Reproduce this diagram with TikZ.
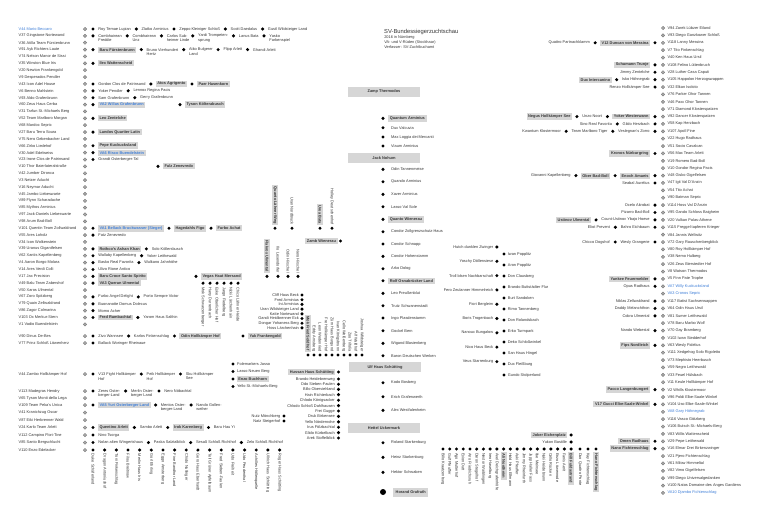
\documentclass[tikz,border=0pt]{standalone}
\usepackage{fontspec}
\setmainfont{Liberation Sans}
\usetikzlibrary{positioning}
\pgfdeclarelayer{bg}
\pgfsetlayers{bg,main}
\definecolor{txt}{HTML}{363636}
\definecolor{linec}{HTML}{9C9C9C}
\definecolor{boxc}{HTML}{D6D6D6}
\definecolor{blu}{HTML}{3F7FD8}
\newcommand\ftx{\fontsize{3.9}{4.5}\selectfont}
\newcommand\fbx{\fontsize{3.9}{4.5}\selectfont\bfseries}
\tikzset{
  tx/.style={font=\ftx, text=txt, inner sep=0.5pt, anchor=west},
  txe/.style={tx, anchor=east},
  bxn/.style={font=\fbx, text=txt, fill=boxc, inner xsep=1.6pt, inner ysep=1.5pt, anchor=west},
  bxnb/.style={bxn, text=blu},
  bxne/.style={bxn, anchor=east},
  bdot/.style={circle, fill=black, inner sep=0pt, minimum size=3.4pt},
  gdot/.style={circle, fill=gray!65, draw=gray, line width=0.5pt, inner sep=0pt, minimum size=3.3pt},
  lnk/.style={draw=linec, line width=0.7pt},
  vdn/.style={tx, rotate=-90, anchor=west},
  vup/.style={tx, rotate=-90, anchor=east},
  vbdn/.style={bxn, rotate=-90, anchor=west},
  vbup/.style={bxn, rotate=-90, anchor=east},
  nx/.style={right=2.8pt of #1},
  px/.style={left=2.8pt of #1},
  mbx/.style={font=\fbx, fill=boxc, text=txt, minimum width=72pt, minimum height=10pt, inner sep=0pt},
}
\begin{document}
\begin{tikzpicture}[x=1pt,y=-1pt]
\path[use as bounding box, fill=white] (0,0) rectangle (768,515);

% ---------------- title
\node[font=\fontsize{5.8}{6.5}\selectfont, text=txt, anchor=west, inner sep=0pt] (title) at (384,31.5) {SV-Bundessiegerzuchtschau};
\node[tx] (sub1) at (383.6,37.3) {2016 in Nürnberg};
\node[tx] (sub2) at (383.6,42) {VA- und V-Rüden (Stockhaar)};
\node[tx] (sub3) at (383.6,46.7) {Verfasser: SV-Zuchtbuchamt};

% ---------------- left list
\foreach \i/\cc/\nm in {0/blu/V44 Mario Beccaro,1/txt/V37 Gingstone Nortewand,2/txt/V36 Atilla Team Fürstenbrunn,3/txt/V91 Ayk Richters Laute,4/txt/V74 Nelson Manor de Sissi,5/txt/V35 Winston Blue Iris,6/txt/V20 Newton Frankengold,7/txt/V9 Desperados Pendler,8/txt/V43 Icon Adel House,9/txt/V6 Benno Mahlstein,10/txt/V93 Aldo Grafenbrunn,11/txt/V60 Zeus Haus Cerba,12/txt/V31 Tarfun St.-Michaels Berg,13/txt/V52 Team Marlboro Morgan,14/txt/V68 Mardoc Sepric,15/txt/V27 Baru Terra Soura,16/txt/V75 Nero Gebenbacher Land,17/txt/V66 Zirko Liedehof,18/txt/V30 Adel Edelweiss,19/txt/V23 Irone Clos de Patrinsand,20/txt/V10 Thor Baierlateralstraße,21/txt/V42 Jumber Dironca,22/txt/V3 Netzer Aducht,23/txt/V16 Neymar Aducht,24/txt/V45 Jambo Liebeswarte,25/txt/V89 Flynn Scharadache,26/txt/V85 Mythos Arminius,27/txt/V97 Jack-Daniels Liebeswarte,28/txt/V98 Arum Bad-Boll,29/txt/V101 Quentin Team Zollwaldrand,30/txt/V55 Ares Loholz,31/txt/V34 Icon Wolkenstein,32/txt/V39 Uranus Gigantfelsen,33/txt/V62 Xantis Kapellenberg,34/txt/V4 Aaron Borgo Molara,35/txt/V14 Ares Verdi Colli,36/txt/V17 Jax Precision,37/txt/V49 Balu Team Zabershof,38/txt/V50 Xaros Ulmental,39/txt/V67 Zoro Spitzberg,40/txt/V79 Quain Zellwaldrand,41/txt/V86 Zagor Colmarina,42/txt/V103 Ox Merkur-Stern,43/txt/V1 Vadio Buendelstein}{
  \node[tx, text=\cc] (L\i) at (18,{29+6.87*\i}) {\nm};
  \node[gdot] (G\i) at (85,{29+6.87*\i}) {};
}
\foreach \i/\yy/\nm in {44/336/V90 Dinus De-Bes,45/343/V77 Prinz Schloß Löwenherz,46/374/V44 Zambo Hollkämper Hof,47/391/V113 Madegras Hendry,48/398/V65 Tyson Monti della Lega,49/405/V109 Team Peka's Unica,50/412.5/V41 Kranichzug Oscar,51/420/V87 Eiki Herbrenner Wald,52/427.5/V24 Karlo Team Arlett,53/435/V112 Campino Flori-Tine,54/442.5/V85 Santo Bergschlucht,55/450/V110 Enzo Edelacker}{
  \node[tx] (L\i) at (18,\yy) {\nm};
  \node[gdot] (G\i) at (85,\yy) {};
}
\foreach \i in {0,1,3,5,8,9,10,11,13,15,17,18,19,29,30,32,33,34,35,36,37,39,40,41,42,44,45,46,47,49,52,53,54,55}{
  \node[bdot] (B\i) at (93,0 |- G\i) {};
}

% row 0
\node[tx, nx=B0] (r0a) {Roy Temae Lupian};
\node[bdot, nx=r0a] (r0ad) {};
\node[tx, nx=r0ad] (r0b) {Zlatko Arminius};
\node[bdot, nx=r0b] (r0bd) {};
\node[tx, nx=r0bd] (r0c) {Zeppo Kleiniger Schloß};
\node[bdot, nx=r0c] (r0cd) {};
\node[tx, nx=r0cd] (r0d) {Scott Daedalus};
\node[bdot, nx=r0d] (r0dd) {};
\node[tx, nx=r0dd] (r0e) {Gustl Wildsteiger Land};
% row 1
\node[tx, nx=B1] (r1a) {Combhairean};
\node[tx, anchor=north west] (r1a2) at (r1a.south west) {Freddie};
\node[bdot, nx=r1a] (r1ad) {};
\node[tx, nx=r1ad] (r1b) {Combhairean};
\node[tx, anchor=north west] (r1b2) at (r1b.south west) {Unz};
\node[bdot, nx=r1b] (r1bd) {};
\node[tx, nx=r1bd] (r1c) {Carlos Sub-};
\node[tx, anchor=north west] (r1c2) at (r1c.south west) {heimer Linde};
\node[bdot, nx=r1c] (r1cd) {};
\node[tx, nx=r1cd] (r1d) {Yardi Trompeten-};
\node[tx, anchor=north west] (r1d2) at (r1d.south west) {sprung};
\node[bdot, nx=r1d] (r1dd) {};
\node[tx, nx=r1dd] (r1e) {Lanus Bata};
\node[bdot, nx=r1e] (r1ed) {};
\node[tx, nx=r1ed] (r1f) {Yasko};
\node[tx, anchor=north west] (r1f2) at (r1f.south west) {Farbenspiel};
% row 3
\node[bxn, nx=B3] (r3a) {Baru Fürstenbrunn};
\node[bdot, nx=r3a] (r3ad) {};
\node[tx, nx=r3ad] (r3b) {Bruno Vierhundert};
\node[tx, anchor=north west] (r3b2) at (r3b.south west) {Hertz};
\node[bdot, nx=r3b] (r3bd) {};
\node[tx, nx=r3bd] (r3c) {Atko Bulgerer};
\node[tx, anchor=north west] (r3c2) at (r3c.south west) {Land};
\node[bdot, nx=r3c] (r3cd) {};
\node[tx, nx=r3cd] (r3d) {Flipp Arlett};
\node[bdot, nx=r3d] (r3dd) {};
\node[tx, nx=r3dd] (r3e) {Ghandi Arlett};
% row 5
\node[bxn, nx=B5] (r5a) {Ilex Wattenscheid};
% row 8
\node[tx, nx=B8] (r8a) {Gordon Clos de Patrinsand};
\node[bdot, nx=r8a] (r8ad) {};
\node[bxn, nx=r8ad] (r8b) {Atos Agrigento};
\node[bdot, nx=r8b] (r8bd) {};
\node[bxn, nx=r8bd] (r8c) {Paer Hasenkorn};
% rows 9-11
\node[tx, nx=B9] (r9a) {Yoker Pendler};
\node[bdot, nx=r9a] (r9ad) {};
\node[tx, nx=r9ad] (r9b) {Lennox Regina Pacis};
\node[tx, nx=B10] (r10a) {Sam Grafenbrunn};
\node[bdot, nx=r10a] (r10ad) {};
\node[tx, nx=r10ad] (r10b) {Gerry Grafenbrunn};
\node[bxnb, nx=B11] (r11a) {VA2 Willas Grafenbrunn};
\node[bdot] (r11ad) at (180,0 |- G11) {};
\node[bxn, nx=r11ad] (r11b) {Tyson Költerabusch};
% rows 13-20
\node[bxn, nx=B13] (r13a) {Leo Zentelche};
\node[bxn, nx=B15] (r15a) {Landos Quartier Latin};
\node[bxn, nx=B17] (r17a) {Pepe Kuckucksland};
\node[bxnb, nx=B18] (r18a) {VA6 Risco Buendelstein};
\node[tx, nx=B19] (r19a) {Grandt Osterberger-Tal};
\node[bdot] (r20d) at (158,0 |- G20) {};
\node[bxn, nx=r20d] (r20a) {Fulz Zenevredo};
% row 29
\node[bxnb, nx=B29] (r29a) {VA1 Bellack Bruckwasser (Sieger)};
\node[bdot, nx=r29a] (r29d) {};
\node[bxn, nx=r29d] (r29b) {Hagedahls Figo};
\node[bdot, nx=r29b] (r29ed) {};
\node[bxn, nx=r29ed] (r29c) {Furbo Achat};
\node[bdot] (m1) at (275,0 |- G29) {};
\node[bdot] (m2) at (292,0 |- G29) {};
\node[bdot] (m3) at (320,0 |- G29) {};
\node[bdot] (m4) at (332,0 |- G29) {};
\node[vbup] (ml1) at (275,225.6) {Quanto Lähner Weg};
\node[vup] (ml2) at (292,225.6) {Uran Nordbruck};
\node[vbup] (ml3) at (320,225.6) {Urea Bata};
\node[vup] (ml4) at (332,225.6) {Holley Deutschenhof};
% row 30
\node[tx, nx=B30] (r30a) {Fatz Zenevredo};
% rows 32-43
\node[bxn, nx=B32] (r32a) {Rothco's Ashan Khan};
\node[bdot, nx=r32a] (r32ad) {};
\node[tx, nx=r32ad] (r32b) {Solo Köllersbusch};
\node[tx, nx=B33] (r33a) {Wallaby Kapellenberg};
\node[bdot, nx=r33a] (r33ad) {};
\node[tx, nx=r33ad] (r33b) {Yoker Leithewald};
\node[tx, nx=B34] (r34a) {Basko Real Favorita};
\node[bdot, nx=r34a] (r34ad) {};
\node[tx, nx=r34ad] (r34b) {Wulkano Jahnhöhe};
\node[tx, nx=B35] (r35a) {Ulivo Rione Antico};
\node[bxn, nx=B36] (r36a) {Baru Croce Santo Spirito};
\node[bdot] (vh) at (196,0 |- G36) {};
\node[bxn, nx=vh] (r36b) {Vegas Haut Mersand};
\node[bdot] (n1) at (267,0 |- G36) {};
\node[bdot] (n2) at (278,0 |- G36) {};
\node[bdot] (n3) at (288,0 |- G36) {};
\node[bdot] (n4) at (298,0 |- G36) {};
\node[vbup] (nl1) at (267,273.6) {Flakros Ulmental};
\node[vup] (nl2) at (278,273.6) {Ilo Lesendorfer};
\node[vup] (nl3) at (288,273.6) {Odin Hirschel};
\node[vup] (nl4) at (298,273.6) {Nero Hirschel};
\node[bxn, nx=B37] (r37a) {VA3 Queran Ulmental};
\node[tx, nx=B39] (r39a) {Furbo Angel Delight};
\node[bdot, nx=r39a] (r39ad) {};
\node[tx, nx=r39ad] (r39b) {Porto Sempre Victor};
\node[tx, nx=B40] (r40a) {Buonanotte Domus Dolecus};
\node[tx, nx=B41] (r41a) {Momo Acher};
\node[bxn, nx=B42] (r42a) {Fred Rumbachtal};
\node[bdot, nx=r42a] (r42ad) {};
\node[tx, nx=r42ad] (r42b) {Yarom Haus Salthin};
% row at 283
\foreach \k/\xx/\nm in {1/203/Mok Schwarzenberger,2/210/Harry Durrenbach,3/217/Eske Oberlicher Hof,4/224/Jargo Fiedelberg,5/231/Nicki Lärchenhain,6/238/Chico Lähner Heide}{
  \node[bdot] (o\k) at (\xx,0 |- G37) {};
  \node[vdn] (ol\k) at (\xx,286.6) {\nm};
}
\foreach \k/\yy/\nm in {1/295/Cliff Haus Beck,2/299.7/Fred Arminius,3/304.4/Ini Arminius,4/309.1/Uran Wildsteiger Land,5/313.8/Katte Nortewand,6/318.5/Gandi Heidbrenner Eck,7/323.2/Dongar Yohaness Berg,8/327.9/Hoss Lärchenhain}{
  \node[bdot] (c\k) at (302,\yy) {};
  \node[txe] (cl\k) at (299.6,\yy) {\nm};
}
% Zamb
\node[bdot] (Zd) at (340.5,241) {};
\node[bxne] (zw) at (337.7,241) {Zamb Wienerau};
% rows 44-55
\node[tx, nx=B44] (r44a) {Zivo Wannsee};
\node[bdot, nx=r44a] (r44ad) {};
\node[tx, nx=r44ad] (r44b) {Karlos Finkenschlag};
\node[bdot, nx=r44b] (r44bd) {};
\node[bxn, nx=r44bd] (r44c) {Odin Hollkämper Hof};
\node[bdot] (r44cd) at (243,336) {};
\node[bxn, nx=r44cd] (r44d) {Yak Frankengold};
\node[tx, nx=B45] (r45a) {Ballack Woringer Rheinaue};
\node[tx, nx=B46] (r46a) {V13 Fight Hollkämper};
\node[tx, anchor=north west] (r46a2) at (r46a.south west) {Hof};
\node[bdot, nx=r46a] (r46ad) {};
\node[tx, nx=r46ad] (r46b) {Peik Hollkämper};
\node[tx, anchor=north west] (r46b2) at (r46b.south west) {Hof};
\node[bdot, nx=r46b] (r46bd) {};
\node[tx, nx=r46bd] (r46c) {Sku Hollkämper};
\node[tx, anchor=north west] (r46c2) at (r46c.south west) {See};
\node[tx, nx=B47] (r47a) {Zeres Oster-};
\node[tx, anchor=north west] (r47a2) at (r47a.south west) {berger-Land};
\node[bdot, nx=r47a] (r47ad) {};
\node[tx, nx=r47ad] (r47b) {Merlin Oster-};
\node[tx, anchor=north west] (r47b2) at (r47b.south west) {berger Land};
\node[bdot, nx=r47b] (r47bd) {};
\node[tx, nx=r47bd] (r47c) {Nero Nöbachtal};
\node[bxnb, nx=B49] (r49a) {VA5 Yuri Osterberger Land};
\node[bdot, nx=r49a] (r49ad) {};
\node[tx, nx=r49ad] (r49b) {Mentos Oster-};
\node[tx, anchor=north west] (r49b2) at (r49b.south west) {berger-Land};
\node[bdot, nx=r49b] (r49bd) {};
\node[tx, nx=r49bd] (r49c) {Nando Gollen-};
\node[tx, anchor=north west] (r49c2) at (r49c.south west) {weiher};
\node[bxn, nx=B52] (r52a) {Quentino Arlett};
\node[bdot, nx=r52a] (r52ad) {};
\node[tx, nx=r52ad] (r52b) {Sambo Arlett};
\node[bdot, nx=r52b] (r52bd) {};
\node[bxn, nx=r52bd] (r52c) {Irok Karenberg};
\node[bdot, nx=r52c] (r52cd) {};
\node[tx, nx=r52cd] (r52d) {Baru Hau Yi};
\node[tx, nx=B53] (r53a) {Nino Tsorga};
\node[tx, nx=B54] (r54a) {Nolan alten Wingertshaus};
\node[bdot, nx=r54a] (r54ad) {};
\node[tx, nx=r54ad] (r54b) {Paska Salztalblick};
\node[bdot, nx=r54b] (r54bd) {};
\node[tx, nx=r54bd] (r54c) {Sesaß Schloß Richthof};
\node[bdot, nx=r54c] (r54cd) {};
\node[tx, nx=r54cd] (r54d) {Zelo Schloß Richthof};
% column at 233
\node[bdot] (fm1) at (233,364) {};
\node[bdot] (fm2) at (233,371.5) {};
\node[bdot] (fm3) at (233,379) {};
\node[bdot] (fm4) at (233,386.5) {};
\node[tx] (fml1) at (236.5,364) {Folemarkers Jasso};
\node[tx] (fml2) at (236.5,371.5) {Lasso Neuen Berg};
\node[bxn] (fml3) at (236.5,379) {Enzo Buchhorn};
\node[tx] (fml4) at (236.5,386.5) {Yello St.-Michaels-Berg};
% row at 355
\foreach \k/\nm in {1/Eddy Arnsberg,2/Leon Wedenried,3/Fre Hollkämper Hof,4/Zürn Haus Burgund,5/Ivan Königsbrunn,6/Cello Weißenberg,7/Zoo Trifolia,8/Alf Waldhof,9/Joshua Wildsteiger}{
  \node[bdot] (q\k) at ({308+6*\k},355) {};
  \node[vup] (ql\k) at ({308+6*\k},352.2) {\nm};
}
\node[bdot] (q0) at (308,355) {};
\node[vbup] (ql0) at (308,352.2) {Mok Fried Soldhof};
% Nutz
\node[bdot] (nz1) at (284,416) {};
\node[bdot] (nz2) at (284,421) {};
\node[txe] (nzl1) at (281,416) {Nutz Mönchberg};
\node[txe] (nzl2) at (281,421) {Natz Steigerhof};
% Hussan
\node[bdot] (h0) at (338.5,372) {};
\node[bxne] (hb) at (335.5,372) {Hussan Haus Schütting};
\foreach \k/\yy/\nm in {1/379/Brando Heidebrenweg,2/384.2/Odo Sieben-Faulen,3/389.4/Billo Oberviehland,4/394.6/Hain Richterbach,5/400.2/Chlodo Königsacker,6/405.6/Chlodo Schloß Dahlhausen,7/411/Frei Gugge,8/416.4/Druk Birkensee,9/421.8/Yello Nördernohe,10/427.2/Irus Fölzbachtal,11/432.6/Glido Kürbelbach,12/438/Arek Stoffelblick}{
  \node[bdot] (h\k) at (338.5,\yy) {};
  \node[txe] (hl\k) at (335.5,\yy) {\nm};
}
% bottom-left row
\foreach \k in {1,...,16}{\node[bdot] (e\k) at ({93+11.66*\k},450) {};}
\foreach \k/\nm in {0/Duke Schäferland,1/Dragon Antoniushof,2/Toni Finkenschlag,3/Filou Breitnow,4/Merlin Haus Iris,5/Gorl Ehrling,6/Eggo Amsterberg,7/Fine Bandhor Land,8/Chido Nullinger,9/Gero Haus Eberhardt,10/Tell Grüner Apfelbaum,11/Fred Sieben-Faulen,12/Udo Freiheit,13/Udo Peudenthal,14/Achilles Höllenquelle,15/Ullrich Haus Schütting,16/Roger Haus Schütting}{
  \node[vdn] (el\k) at ({93+11.66*\k},453.2) {\nm};
}

% ---------------- spine
\node[mbx] (ZT) at (384,91.5) {Zamp Thermodos};
\node[mbx] (JN) at (384,158) {Jack Nohum};
\node[mbx] (UH) at (385,367) {Ulf Haus Schütting};
\node[mbx] (HU) at (384,428) {Hettel Uckermark};
\node[circle, fill=black, inner sep=0pt, minimum size=6pt] (BIG) at (383,492) {};
\node[bxn, minimum height=9pt, inner xsep=2.5pt] (hg) at (393,492) {Horand Grafrath};
\node[bdot] (sp1) at (383,118.3) {};
\node[bxn] (spb1) at (388,118.3) {Quantum Arminius};
\node[bdot] (sp9) at (383,219.3) {};
\node[bxn] (spb9) at (388,219.3) {Quanto Wienerau};
\node[bdot] (sp14) at (383,280.7) {};
\node[bxn] (spb14) at (388,280.7) {Rolf Osnabrücker Land};
\foreach \n/\yy/\nm in {2/127.7/Dux Valcuvia,3/137/Max Loggia dei Mercanti,4/146/Viaum Arminius,5/169.3/Odin Tannenmeise,6/181.7/Quando Arminius,7/194.3/Xaver Arminius,8/206.7/Lasso Val Sole,10/231.7/Condor Zollgrenzschutz-Haus,11/244/Condor Schnapp,12/256.3/Condor Hohenstamm,13/268.7/Arko Dolog,15/293.3/Leo Preußenblut,16/305.7/Trutz Schwanenstadt,17/318/Ingo Plasdenstamm,18/330.7/Gockel Bern,19/343.3/Wigand Blasienberg,20/355.7/Baron Deutschen Werken,21/382.7/Kodo Bosberg,22/396.7/Erich Grafenwerth,23/410.3/Alex Westfalenheim,24/442.7/Roland Starkenburg,25/457.3/Heinz Starkenburg,26/472.3/Hektor Schwaben}{
  \node[bdot] (sp\n) at (383,\yy) {};
  \node[tx] (spl\n) at (390.5,\yy) {\nm};
}

% ---------------- right list
\foreach \j/\cc/\nm in {0/txt/V94 Zarek Lübzer Eiland,1/txt/V93 Diego Ganzkower Schloß,2/txt/V118 Lanny Messina,3/txt/V7 Tito Finkenschlag,4/txt/V40 Ken Haus Ursil,5/txt/V108 Felino Lüttenbruch,6/txt/V28 Luther Casa Caputi,7/txt/V105 Happolon Herzogswappen,8/txt/V32 Elkan Isoloto,9/txt/V76 Parker Ohor Tannen,10/txt/V46 Paxx Ohor Tannen,11/txt/V71 Diamond Klosterspatzen,12/txt/V92 Dancer Klosterspatzen,13/txt/V58 Kap Herzbach,14/txt/V107 Apoll Fine,15/txt/V22 Hugo Radhaus,16/txt/V51 Socio Cavalcan,17/txt/V56 Max Team Arlett,18/txt/V19 Romero Bad-Boll,19/txt/V10 Gondor Regina Pacis,20/txt/V48 Gisko Gigelfelsen,21/txt/V47 Igit Val D'Anzin,22/txt/V54 Tito Achat,23/txt/V90 Batman Sepric,24/txt/V114 Hoss Val D'Anzin,25/txt/V95 Gando Schloss Baigheim,26/txt/V20 Vulkan Palas-Athene,27/txt/V115 Freggel tapferen Krieger,28/txt/V84 Jannis Wellwitz,29/txt/V72 Gary Rauschenbergblick,30/txt/V80 Roy Hollkämper Hof,31/txt/V38 Nemo Hulberg,32/txt/V26 Zeus Bierstedter Hof,33/txt/V8 Watson Thermodos,34/txt/V5 Finn Pate Trophe,35/blu/VA7 Willy Kuckucksland,36/blu/VA3 Cronos Sepric,37/txt/V117 Batist Sachsenwappen,38/txt/V64 Odin Haus Ursil,39/txt/V81 Sumer Leithewald,40/txt/V78 Baru Marbo Wolf,41/txt/V70 Gay Bramberg,42/txt/V102 Iwan Stedderhof,43/txt/V63 Wesly Fidelius,44/txt/V111 Xedgehog Solo Rigoletto,45/txt/V73 Mephisto Heerbusch,46/txt/V59 Negro Leithewald,47/txt/V33 Feuel Hülsbach,48/txt/V11 Keule Hollkämper Hof,49/txt/V2 Whills Klostermoor,50/txt/V96 Poldi Elbe-Saale-Winkel,51/txt/V104 Uso Elbe-Saale-Winkel,52/blu/VA8 Gary Höhnegrab,53/txt/V116 Vasco Götzberg,54/txt/V106 Butsch St.-Michaels-Berg,55/txt/V83 Willis Wattenscheid,56/txt/V29 Pepe Leithewald,57/txt/V16 Elmar Drei Birkenzwinger,58/txt/V21 Pjero Fichtenschlag,59/txt/V61 Milow Himmeltal,60/txt/V82 Vimo Gigelfelsen,61/txt/V99 Diego Universalgedanken,62/txt/V100 Natos Domaine des Anges Gardiens,63/blu/VA10 Djambo Fichtenschlag}{
  \node[tx, text=\cc] (RT\j) at (666.8,{28+7.38*\j}) {\nm};
  \node[gdot] (RG\j) at (663,{28+7.38*\j}) {};
}
\foreach \p in {2,5,6,7,8,12,13,14,17,20,21,24,25,26,27,29,34,35,37,38,39,41,43,49,51,56,57}{
  \node[bdot] (RD\p) at (655,0 |- RG\p) {};
}
\node[bxne, px=RD2] (dun) {V12 Duncan von Messina};
\node[bdot, px=dun] (dund) {};
\node[txe, px=dund] (qua) {Quattro Partnachklamm};
\node[bxne, px=RD5] (schu) {Schumann Trunje};
\node[txe, px=RD6] (jim) {Jimmy Zentelche};
\node[txe, px=RD7] (isko) {Isko Höhnegrab};
\node[bdot, px=isko] (iskod) {};
\node[bxne, px=iskod] (dux) {Dux Intercanino};
\node[txe, px=RD8] (renzo) {Renzo Hollkämper See};
\node[bxne, px=RD12] (yow) {Yoker Westerwann};
\node[bdot, px=yow] (yowd) {};
\node[txe, px=yowd] (unzo) {Unzo Noort};
\node[bdot, px=unzo] (unzod) {};
\node[bxne, px=unzod] (negus) {Negus Hollkämper See};
\node[txe, px=RD13] (gildo) {Gildo Herzbach};
\node[bdot, px=gildo] (gildod) {};
\node[txe, px=gildod] (sino) {Sino Real Favorita};
\node[txe, px=RD14] (ves) {Veslegnan's Zorro};
\node[bdot, px=ves] (vesd) {};
\node[txe, px=vesd] (tmt) {Team Marlboro Tiger};
\node[bdot, px=tmt] (tmtd) {};
\node[txe, px=tmtd] (kwa) {Kwantum Klostermoor};
\node[bxne, px=RD17] (kron) {Kronos Nürburgring};
\node[bxne, px=RD20] (eno) {Enoch Amaeis};
\node[bdot, px=eno] (enod) {};
\node[bxne, px=enod] (ober) {Ober Bad-Boll};
\node[bdot, px=ober] (oberd) {};
\node[txe, px=oberd] (gio) {Giovanni Kapellenberg};
\node[txe, px=RD21] (sea) {Seabal Aurelius};
\node[txe, px=RD24] (oce) {Ocelo Akrobat};
\node[txe, px=RD25] (piz) {Pizarro Bad-Boll};
\node[txe, px=RD26] (cub) {Count-Ustinov Ybajo Hoeve};
\node[bdot, px=cub] (cubd) {};
\node[bxne, px=cubd] (ust) {Ustinov Ulmental};
\node[txe, px=RD27] (bah) {Bahro Eichbaum};
\node[bdot, px=bah] (bahd) {};
\node[txe, px=bahd] (eli) {Eliot Prevent};
\node[txe, px=RD29] (wes) {Wesly Orangerie};
\node[bdot, px=wes] (wesd) {};
\node[txe, px=wesd] (chi) {Chicco Dogshof};
\node[bxne, px=RD34] (yan) {Yankee Feuermelder};
\node[txe, px=RD35] (opus) {Opus Radhaus};
\node[txe, px=RD37] (nik) {Niklas Zellwaldrand};
\node[txe, px=RD38] (dad) {Daddy Melanchthon};
\node[txe, px=RD39] (cob) {Cobra Ulmental};
\node[txe, px=RD41] (nan) {Nando Webestal};
\node[bxne, px=RD43] (fips) {Fips Nordleich};
\node[bxne, px=RD49] (pac) {Pacco Langenbungert};
\node[bxne, px=RD51] (guc) {V17 Gucci Elbe-Saale-Winkel};
\node[bxne, px=RD56] (omen) {Omen Radhaus};
\node[bxne, px=RD57] (nano) {Nano Fichtenschlag};
% Hutch / Popplitz columns
\foreach \k/\yy/\nm in {1/247/Hutch dunklen Zwinger,2/261.3/Yoschy Döllensiese,3/275.6/Troll blsen Nachbarschaft,4/289.9/Fero Zeulanner Himmelreich,5/304.2/Fiori Bergleim,6/318.5/Boris Trogenbach,7/332.8/Nanouc Bungalow,8/347.1/Nico Haus Beck,9/361.6/Veus Starrenburg}{
  \node[bdot] (hu\k) at (496.9,\yy) {};
  \node[txe] (hul\k) at (493.9,\yy) {\nm};
}
\foreach \k/\yy/\nm in {1/254/Iwan Popplitz,2/265/Aron Popplitz,3/276/Don Clausberg,4/287/Brando Buttstädter Flur,5/298/Burt Sandoken,6/309/Rimo Tannenberg,7/320/Don Rolandsbach,8/331/Erko Turmpark,9/342/Deko Schloßwinkel,10/353/San Haus Hingel,11/364/Dux Fleißburg,12/375/Gundo Stolperland}{
  \node[bdot] (po\k) at (504,\yy) {};
  \node[tx] (pol\k) at (507.2,\yy) {\nm};
}
\node[bdot] (jk) at (571.06,435) {};
\node[bxne] (jkb) at (567.6,435) {Joker Eichenplatz};
\node[bdot] (yk) at (571.06,442) {};
\node[txe] (ykt) at (567.6,442) {Yukon Bastille};
% bottom-right row
\foreach \k in {0,...,19}{\node[bdot] (f\k) at ({443+6.74*\k},449) {};}
\node[bdot] (f20) at (580,449) {};
\node[bdot] (f21) at (588,449) {};
\node[bdot] (f22) at (596,449) {};
\foreach \k/\nm in {0/Billo Kraatzenburg,1/Gulf Pfeuffer,2/Ago Mutterhof,3/Exion Dutt,4/Arro Friedrichsruh,5/Daron Stegelhof,6/Nestor Waiblingen,7/Ireo Haselburg,8/Axel Deichgrafenhöfe,10/Hold Haus Elfmann,11/Aski Pfeuffer,12/Jimmy Rheinfurth,13/Jupp Haller Fass,14/Ilse Meinsee,15/Nuki Heidebrunn,16/Cello Rücken,17/Enzo Löwenrode,18/Fanis Aerit}{
  \node[vdn] (fl\k) at ({443+6.74*\k},452.3) {\nm};
}
\node[vbdn] (fl9) at (503.66,452) {Ali Nordheim};
\node[vbdn] (fl19) at (571.06,452) {Bill Fuldastrand};
\node[vdn] (fl20) at (580,452.3) {Duo Quattro Ponte};
\node[vdn] (fl21) at (588,452.3) {Kay Fichtenschlag};
\node[vbdn] (fl22) at (596,452) {Hano Fichtenschlag};

% ================= connectors (behind)
\begin{pgfonlayer}{bg}
\foreach \i in {0,1,3,5,8,9,10,11,13,15,17,18,19,29,30,32,33,34,35,36,37,39,40,41,42,44,45,46,47,49,52,53,54,55}{\draw[lnk] (G\i) -- (B\i);}
\foreach \cq/\pq in {2/3,4/5,7/8,12/13,14/15,16/17,22/29,23/29,24/29,25/29,26/29,27/29,28/29,31/32,38/37,43/42,48/47,50/49,51/52}{\draw[lnk] (G\cq) -| (B\pq);}
\draw[lnk] (B0)--(r0a)--(r0ad)--(r0b)--(r0bd)--(r0c)--(r0cd)--(r0d)--(r0dd)--(r0e);
\draw[lnk] (r0e) -| (337,228.23);
\draw[lnk] (337,158) -- (JN.west);
\draw[lnk] (B1)--(r1a)--(r1ad)--(r1b)--(r1bd)--(r1c)--(r1cd)--(r1d)--(r1dd)--(r1e)--(r1ed)--(r1f);
\draw[lnk] (r1f) -| (308,228.23);
\draw[lnk] (B3)--(r3a)--(r3ad)--(r3b)--(r3bd)--(r3c)--(r3cd)--(r3d)--(r3dd)--(r3e);
\draw[lnk] (r3e) -| (308,228.23);
\draw[lnk] (B5)--(r5a);
\draw[lnk] (r5a) -| (r8bd);
\draw[lnk] (G6) -| (r8ad);
\draw[lnk] (B8)--(r8a)--(r8ad)--(r8b)--(r8bd)--(r8c);
\draw[lnk] (r8c) -| (257,228.23);
\draw[lnk] (B9)--(r9a)--(r9ad)--(r9b);
\draw[lnk] (r9b) -| (r11ad);
\draw[lnk] (B10)--(r10a)--(r10ad)--(r10b);
\draw[lnk] (r10b) -| (r11ad);
\draw[lnk] (B11)--(r11a)--(r11ad)--(r11b);
\draw[lnk] (r11b) -| (252,228.23);
\draw[lnk] (B13)--(r13a);
\draw[lnk] (r13a) -| (r29ed);
\draw[lnk] (B15)--(r15a);
\draw[lnk] (r15a) -| (r29ed);
\draw[lnk] (B17)--(r17a);
\draw[lnk] (r17a) -| (r20d);
\draw[lnk] (B18)--(r18a);
\draw[lnk] (r18a) -| (r20d);
\draw[lnk] (B19)--(r19a);
\draw[lnk] (r19a) -| (r20d);
\draw[lnk] (G20)--(r20d)--(r20a);
\draw[lnk] (r20a) -| (r29ed);
\draw[lnk] (G21) -| (r29d);
\draw[lnk] (B29)--(r29a)--(r29d)--(r29b)--(r29ed)--(r29c)--(337,228.23);
\draw[lnk] (B30)--(r30a);
\draw[lnk] (B32)--(r32a)--(r32ad)--(r32b);
\draw[lnk] (r32b) -| (252,276.32);
\draw[lnk] (B33)--(r33a)--(r33ad)--(r33b);
\draw[lnk] (r33b) -| (196,283.19);
\draw[lnk] (B34)--(r34a)--(r34ad)--(r34b);
\draw[lnk] (r34b) -| (187,317.54);
\draw[lnk] (B35)--(r35a)--(187,269.45);
\draw[lnk] (B36)--(r36a)--(vh)--(r36b)--(337,276.32)--(Zd);
\draw[lnk] (B37)--(r37a);
\draw[lnk] (r37a) -| (160,276.32);
\draw[lnk] (B39)--(r39a)--(r39ad)--(r39b)--(187,296.93);
\draw[lnk] (B40)--(r40a)--(187,303.8);
\draw[lnk] (B41)--(r41a);
\draw[lnk] (r41a) -| (r42ad);
\draw[lnk] (B42)--(r42a)--(r42ad)--(r42b)--(187,317.54);
\draw[lnk] (196,283.19) -- (345,283.19) -- (Zd);
\draw[lnk] (302,283.19) -- (c8);
\draw[lnk] (zw) -- (Zd) -- (JN.south west);
\draw[lnk] (B44)--(r44a)--(r44ad)--(r44b)--(r44bd)--(r44c)--(r44cd)--(r44d);
\draw[lnk] (B45)--(r45a);
\draw[lnk] (r45a) -| (r44bd);
\draw[lnk] (B46)--(r46a)--(r46ad)--(r46b)--(r46bd)--(r46c);
\draw[lnk] (r46c) -| (227,336);
\draw[lnk] (r44cd) -- (243,355);
\draw[lnk] (233,355) -- (372,355);
\draw[lnk] (sp9) -- (367,219.3) -- (367,355);
\draw[lnk] (sp14) -- (372,280.7) -- (372,355);
\draw[lnk] (B47)--(r47a)--(r47ad)--(r47b)--(r47bd)--(r47c);
\draw[lnk] (r47c) -- (224,391) |- (fm3);
\draw[lnk] (fml3) -- (fm3);
\draw[lnk] (B49)--(r49a)--(r49ad)--(r49b)--(r49bd)--(r49c);
\draw[lnk] (r49c) -| (233,355);
\draw[lnk] (B52)--(r52a)--(r52ad)--(r52b)--(r52bd)--(r52c)--(r52cd)--(r52d);
\draw[lnk] (r52d) -| (284,355);
\draw[lnk] (B53)--(r53a);
\draw[lnk] (r53a) -| (r52bd);
\draw[lnk] (B54)--(r54a)--(r54ad)--(r54b)--(r54bd)--(r54c)--(r54cd)--(r54d)--(338.5,442.5)--(h0);
\draw[lnk] (hb) -- (h0);
\draw[lnk] (h0) |- (UH.west);
\draw[lnk] (B55)--(e16)--(343,450)--(343,367)--(UH.west);
% spine
\draw[lnk] (ZT.south) -- (BIG);
\draw[lnk] (sp1) -- (spb1);
\draw[lnk] (sp9) -- (spb9);
\draw[lnk] (sp14) -- (spb14);
\coordinate (zs) at (383,99.5);
\draw[lnk] (zs) -- (443,115) -- (443,175.6) -- (gio);
\draw[lnk] (493,175.6) -- (493,219.88) -- (ust);
% fan
\draw[lnk] (ZT.north) -- (462,42.76) -- (qua);
\draw[lnk] (445,52.29) -- (462,79.66) -- (dux);
\draw[lnk] (413,70.24) -- (462,116.56) -- (negus);
\draw[lnk] (417,67.99) -- (462,123.94) -- (sino);
\draw[lnk] (421,65.75) -- (460,131.32) -- (kwa);
% right
\foreach \p in {2,5,6,7,8,12,13,14,17,20,21,24,25,26,27,29,34,35,37,38,39,41,43,49,51,56,57}{\draw[lnk] (RG\p) -- (RD\p);}
\foreach \cq/\pq in {0/2,1/2,3/5,4/5,9/12,10/12,11/12,15/17,16/17,18/17,19/17,30/34,31/34,32/34,33/34,42/43,44/49,45/49,46/49,47/49,48/49,50/51,58/57,59/57,60/57,61/57,62/57,63/57}{\draw[lnk] (RG\cq) -| (RD\pq);}
\draw[lnk] (RD2)--(dun)--(dund)--(qua);
\draw[lnk] (RD5)--(schu);
\draw[lnk] (RD6)--(jim);
\draw[lnk] (RD7)--(isko)--(iskod)--(dux);
\draw[lnk] (dux.north) |- (schu);
\draw[lnk] (dux.north) |- (jim);
\draw[lnk] (RD8)--(renzo);
\draw[lnk] (negus.north) |- (renzo);
\draw[lnk] (RD12)--(yow)--(yowd)--(unzo)--(unzod)--(negus);
\draw[lnk] (RD13)--(gildo)--(gildod)--(sino);
\draw[lnk] (RD14)--(ves)--(vesd)--(tmt)--(tmtd)--(kwa);
\draw[lnk] (RD17)--(kron);
\draw[lnk] (RD20)--(eno)--(enod)--(ober)--(oberd)--(gio);
\draw[lnk] (RD21)--(sea);
\draw[lnk] (RD24)--(oce);
\draw[lnk] (ober.south) |- (sea);
\draw[lnk] (ober.south) |- (RG22);
\draw[lnk] (ober.south) |- (RG23);
\draw[lnk] (ober.south) |- (oce);
\draw[lnk] (RD25)--(piz);
\draw[lnk] (ust.north) |- (piz);
\draw[lnk] (RD26)--(cub)--(cubd)--(ust);
\draw[lnk] (RD27)--(bah)--(bahd)--(eli);
\draw[lnk] (f8) -- (496.9,227.26) -- (eli);
\draw[lnk] (504,234.64) -- (RG28);
\draw[lnk] (504,234.64) -- (504,418) -- (f8);
\draw[lnk] (RD29)--(wes)--(wesd)--(chi);
\draw[lnk] (f19) -- (571.06,242.02) -- (chi);
\draw[lnk] (571.06,278.92) -- (yan);
\draw[lnk] (RD34)--(yan);
\draw[lnk] (f20) -- (580,286.3) -- (opus);
\draw[lnk] (RD35)--(opus);
\draw[lnk] (580,293.68) -- (RG36);
\draw[lnk] (580,301.06) -- (nik);
\draw[lnk] (RD37)--(nik);
\draw[lnk] (580,308.44) -- (dad);
\draw[lnk] (RD38)--(dad);
\draw[lnk] (580,315.82) -- (cob);
\draw[lnk] (RD39)--(cob);
\draw[lnk] (580,323.2) -- (RG40);
\draw[lnk] (580,330.58) -- (nan);
\draw[lnk] (RD41)--(nan);
\draw[lnk] (580,345.34) -- (fips);
\draw[lnk] (RD43)--(fips);
\draw[lnk] (f22) -- (583,389.62) -- (pac);
\draw[lnk] (RD49)--(pac);
\draw[lnk] (f22) -- (596,404.38);
\draw[lnk] (RD51)--(guc);
\draw[lnk] (596,411.76) -- (RG52);
\draw[lnk] (596,419.14) -- (RG53);
\draw[lnk] (596,426.52) -- (RG54);
\draw[lnk] (596,433.9) -- (RG55);
\draw[lnk] (596,441.28) -- (omen);
\draw[lnk] (RD56)--(omen);
\draw[lnk] (f22) -- (nano);
\draw[lnk] (RD57)--(nano);
\draw[lnk] (jk) -- (jkb);
\draw[lnk] (HU.east) -- (430,428) -- (430,449) -- (f22);
\end{pgfonlayer}
\end{tikzpicture}
\end{document}
